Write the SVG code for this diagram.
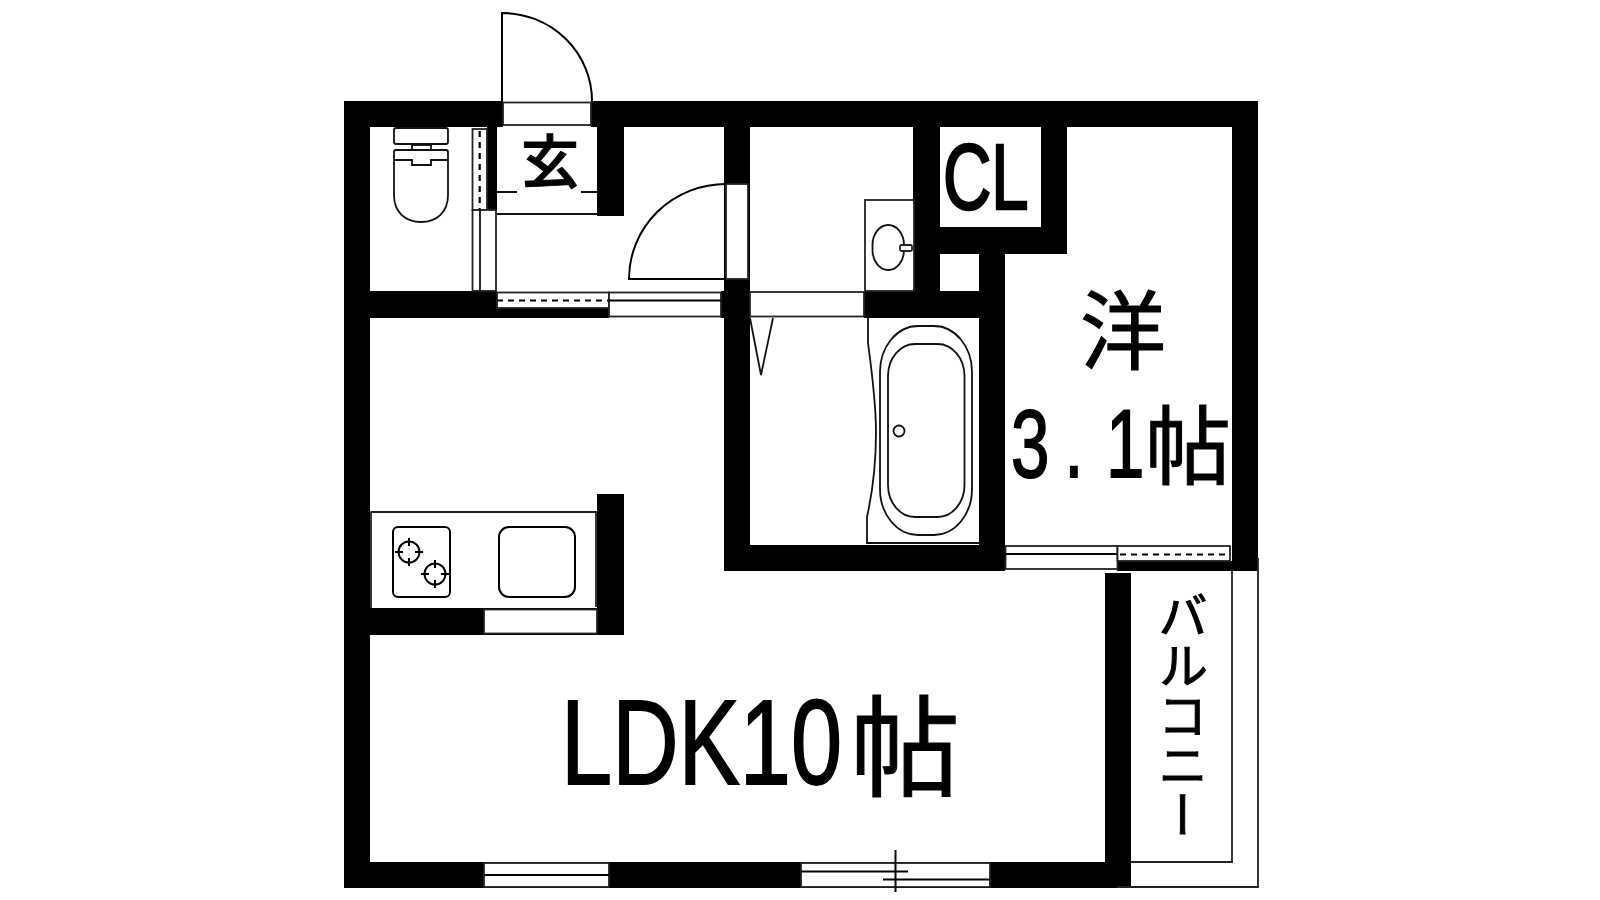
<svg xmlns="http://www.w3.org/2000/svg" width="1600" height="900" viewBox="0 0 1600 900">
<style>
.w{fill:#000}
.o{fill:#fff;stroke:#222;stroke-width:1.8}
.l{fill:none;stroke:#111;stroke-width:1.8}
.k{fill:none;stroke:#000;stroke-width:2}
.d{fill:none;stroke:#000;stroke-width:2.200;stroke-dasharray:6 5}
.j{font-family:"Noto Sans CJK JP","Noto Sans CJK SC",sans-serif;fill:#000;stroke:#000;stroke-width:1}
.a{font-family:"Liberation Sans",Arial,sans-serif;fill:#000;stroke:#000;stroke-width:1.800}
</style>
<rect width="1600" height="900" fill="#fff"/>
<g id="walls">
<rect class="w" x="344" y="101" width="914" height="26"/>
<rect class="w" x="344" y="101" width="26" height="787"/>
<rect class="w" x="344" y="862" width="787" height="26"/>
<rect class="w" x="1232" y="101" width="26" height="470"/>
<rect class="w" x="1117" y="561" width="141" height="10"/>
<rect class="w" x="487" y="127" width="10" height="83"/>
<rect class="w" x="370" y="291" width="127" height="27"/>
<rect class="w" x="497" y="308" width="112" height="10"/>
<rect class="w" x="597" y="127" width="27" height="89"/>
<rect class="w" x="724" y="127" width="26" height="444"/>
<rect class="w" x="721" y="291" width="3" height="27"/>
<rect class="w" x="913" y="127" width="27" height="164"/>
<rect class="w" x="864" y="291" width="141" height="27"/>
<rect class="w" x="940" y="227" width="127" height="27"/>
<rect class="w" x="1041" y="127" width="26" height="127"/>
<rect class="w" x="979" y="254" width="26" height="317"/>
<rect class="w" x="724" y="545" width="281" height="26"/>
<rect class="w" x="597" y="494" width="27" height="141"/>
<rect class="w" x="370" y="608" width="227" height="27"/>
<rect class="w" x="1105" y="573" width="26" height="315"/>
</g>
<g id="openings">
<rect x="503" y="101" width="88" height="26" fill="#fff"/>
<rect class="o" x="503" y="102.500" width="88" height="22.500"/>
<path class="k" d="M502 101V13A90 88 0 0 1 592 101"/>
<rect class="o" x="472.500" y="129" width="14.500" height="81"/>
<path class="d" d="M479.700 131V209"/>
<rect class="o" x="472.500" y="210" width="23.500" height="81"/>
<path class="l" d="M480 210V291"/>
<path class="l" d="M497 214H597M497 192H517M581 192H597"/>
<rect class="o" x="726" y="184" width="22" height="95"/>
<path class="k" d="M726 279H629A97 95 0 0 1 726 184"/>
<rect class="o" x="497" y="292.500" width="112" height="15.500"/>
<path class="d" d="M497 300.500H609"/>
<rect class="o" x="609" y="292.500" width="112" height="24"/>
<path class="k" d="M609 300.500H721"/>
<rect class="o" x="750" y="292" width="114" height="24.500"/>
<rect class="o" x="1005.500" y="546" width="112" height="23"/>
<path class="k" d="M1005.500 554H1117.500"/>
<rect class="o" x="1117.500" y="546" width="112.500" height="15"/>
<path class="d" d="M1120 554.500H1230"/>
<rect class="o" x="484" y="609.500" width="113" height="24"/>
<rect class="o" x="484" y="863" width="125" height="24"/>
<path class="k" d="M484 875H609"/>
<rect class="o" x="801" y="863" width="189" height="24"/>
<path class="k" d="M801 871.500H908M883 879.500H990M895.500 850V892"/>
</g>
<g id="balcony">
<path class="o" style="fill:none" d="M1258 558V887H1117"/>
<path class="o" style="fill:none" d="M1232 571V862H1131"/>
</g>
<g id="toilet">
<rect class="l" x="394" y="128" width="54" height="16" rx="2"/>
<rect class="l" x="412" y="145" width="19" height="5"/>
<path class="l" d="M394 152Q394 150 396 150H446Q448 150 448 152V195C448 212 437 222 421 222C405 222 394 212 394 195ZM394 160H412V165H431V160H448"/>
</g>
<g id="vanity">
<rect class="o" x="865" y="200" width="49" height="91"/>
<rect class="l" x="872.500" y="225" width="31.500" height="45" rx="15.700" ry="20"/>
<rect class="o" x="900" y="245" width="12" height="6" rx="1.500"/>
</g>
<g id="bath">
<path class="l" d="M750 318L761 375L773 318"/>
<path class="l" d="M868 318V343C873 380 876 410 876 432C876 460 873 490 867 517V543H979"/>
<rect class="l" x="880" y="326" width="92" height="209" rx="38" ry="46"/>
<rect class="l" x="888" y="344" width="76.500" height="173" rx="27" ry="32"/>
<circle class="l" cx="899" cy="431" r="5.500"/>
</g>
<g id="kitchen">
<path class="o" style="fill:none" d="M371 608V512H597M596 512V607"/>
<rect class="k" x="393" y="527" width="57" height="70" rx="5"/>
<rect class="k" x="499" y="527" width="76" height="70" rx="10"/>
<g class="k">
<circle cx="409" cy="552" r="10.500"/>
<circle cx="435" cy="574" r="10.500"/>
<path d="M409 538V546M409 558V566M395 552H403M415 552H423M435 560V568M435 580V588M421 574H429M441 574H449"/>
</g>
</g>
<g id="labels">
<text class="j" x="550" y="183" font-size="58" font-weight="500" text-anchor="middle">玄</text>
<text class="a" style="stroke-width:2.500" transform="translate(943,209) scale(.72,1)" font-size="93">CL</text>
<text class="j" x="1123" y="363" font-size="86" text-anchor="middle">洋</text>
<text class="a" transform="translate(1011,477) scale(.72,1)" font-size="96"><tspan x="0">3</tspan><tspan x="74">.</tspan><tspan x="132">1</tspan></text>
<text class="j" x="1188" y="478" font-size="86" text-anchor="middle">帖</text>
<text class="a" transform="translate(561,784) scale(.76,1)" font-size="121">LDK10</text>
<text class="j" x="905" y="788" font-size="110" text-anchor="middle">帖</text>
<text class="j" x="1183" y="590" font-size="50" writing-mode="vertical-rl">バルコニー</text>
</g>
</svg>
